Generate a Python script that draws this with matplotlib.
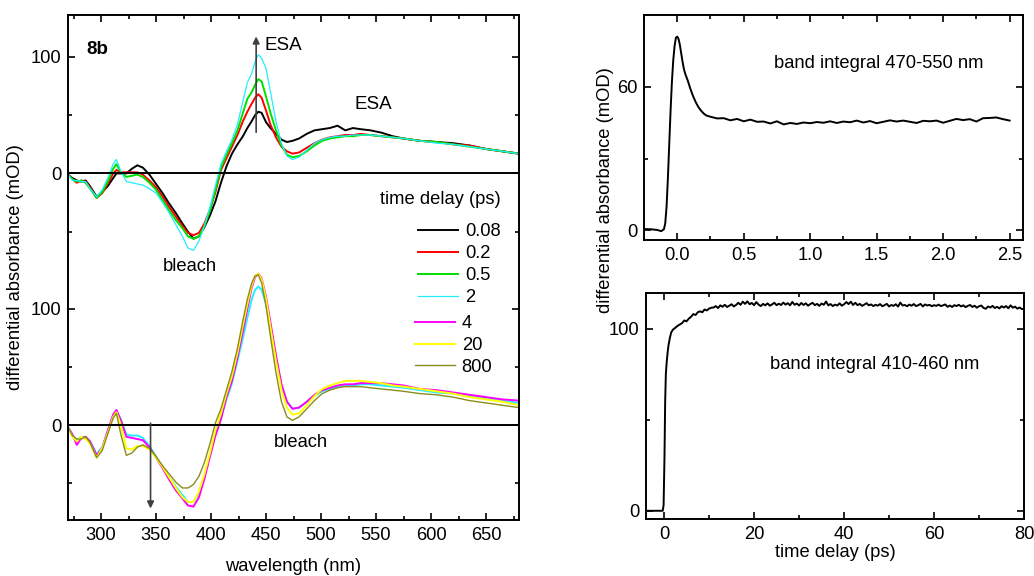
import numpy as np
import matplotlib
matplotlib.use("Agg")
import matplotlib.pyplot as plt
from matplotlib.ticker import MultipleLocator, FixedLocator

plt.rcParams['font.family'] = ['Liberation Sans', 'DejaVu Sans']
plt.rcParams['font.size'] = 13.2

# wavelength grid (nm) shared by all spectra
WL = [270, 274, 278, 282, 286, 290, 296, 301, 306, 311, 314, 318, 323, 328, 333, 338,
      344, 350, 356, 362, 368, 374, 379, 384, 389, 394, 399, 404, 409, 414, 419, 424,
      429, 433, 437, 440, 443, 446, 450, 454, 459, 464, 469, 474, 480, 487, 494, 501,
      508, 515, 522, 529, 536, 545, 555, 565, 575, 590, 605, 620, 635, 650, 665, 680]

# early delays (upper set), mOD
S_008 = [-1, -4, -6, -7, -6, -11, -20, -16, -11, -4, 0, 0, 0, 4, 7, 5,
         -1, -9, -17, -26, -34, -43, -50, -56, -54, -46, -36, -24, -8, 6, 17, 25,
         32, 39, 45, 50, 53, 52, 44, 39, 34, 29, 27, 28, 30, 34, 37, 38,
         39, 41, 37, 39, 38, 37, 35, 32, 30, 28, 27, 26, 24, 21, 19, 17]
S_02 = [-1, -5, -8, -6, -7, -12, -21, -17, -9, 0, 3, 1, 1, 1, 1, -1,
        -6, -12, -20, -29, -37, -45, -51, -53, -51, -43, -31, -16, 3, 13, 23, 33,
        45, 53, 60, 65, 68, 65, 54, 42, 31, 23, 19, 17, 18, 22, 26, 29,
        31, 32, 33, 33, 34, 33, 32, 31, 30, 28, 27, 25, 24, 21, 19, 17]
S_05 = [-1, -5, -7, -6, -8, -13, -21, -16, -7, 4, 8, 1, -3, -2, -1, -3,
        -8, -14, -23, -32, -40, -47, -54, -56, -54, -45, -32, -14, 5, 16, 26, 37,
        52, 64, 70, 76, 81, 79, 66, 52, 37, 24, 16, 14, 15, 19, 24, 28,
        30, 31, 32, 32, 33, 33, 32, 31, 30, 28, 27, 25, 23, 21, 19, 17]
S_2 = [-1, -6, -6, -7, -7, -13, -20, -14, -4, 8, 12, 2, -7, -8, -9, -10,
       -13, -17, -25, -34, -44, -54, -64, -66, -58, -45, -29, -10, 8, 19, 29, 42,
       62, 78, 86, 96, 102, 99, 90, 70, 45, 26, 15, 12, 14, 20, 26, 29,
       31, 32, 32, 33, 33, 33, 32, 31, 30, 28, 26, 25, 23, 21, 19, 17]

# later delays (lower set), mOD
L_2 = [-1, -9, -13, -10, -11, -14, -25, -19, -6, 8, 12, 5, -8, -9, -9, -11,
       -18, -27, -36, -45, -53, -60, -66, -66, -58, -44, -26, -8, 6, 22, 36, 55,
       75, 92, 108, 116, 119, 116, 104, 84, 58, 34, 20, 14, 15, 20, 25, 29,
       31, 33, 34, 34, 35, 35, 34, 33, 32, 30, 28, 27, 25, 23, 21, 19]
L_4 = [-2, -8, -17, -11, -10, -14, -26, -20, -5, 9, 13, 4, -10, -11, -12, -13,
       -19, -28, -37, -47, -56, -63, -69, -70, -62, -46, -27, -9, 5, 24, 38, 58,
       81, 100, 118, 127, 130, 126, 110, 88, 60, 35, 20, 14, 15, 20, 26, 30,
       32, 34, 35, 35, 36, 36, 36, 35, 34, 31, 30, 28, 26, 24, 22, 21]
L_20 = [-2, -10, -14, -10, -12, -16, -28, -20, -7, 7, 11, 0, -20, -21, -18, -18,
        -21, -28, -36, -45, -54, -62, -66, -66, -57, -42, -24, -4, 10, 27, 42, 62,
        86, 104, 120, 128, 130, 125, 108, 84, 55, 30, 15, 9, 10, 17, 25, 31,
        34, 36, 38, 38, 38, 37, 36, 34, 33, 31, 29, 27, 24, 22, 20, 17]
L_800 = [-2, -9, -12, -12, -10, -15, -28, -22, -8, 6, 10, -8, -26, -24, -19, -17,
         -20, -27, -35, -42, -49, -54, -54, -51, -44, -32, -16, 2, 14, 30, 46, 66,
         90, 108, 122, 128, 129, 122, 102, 76, 45, 20, 7, 4, 7, 14, 21, 27,
         30, 32, 33, 33, 33, 32, 31, 30, 29, 27, 26, 24, 21, 19, 17, 15]

UPPER_SHIFT = 216  # vertical offset of the early-delay stack

# band integral 470-550 nm, short delays (ps, mOD)
T_SHORT_RISE = [-0.25, -0.20, -0.15, -0.12, -0.10, -0.09, -0.08, -0.07, -0.06, -0.05,
                -0.04, -0.03, -0.02, -0.01, 0.0, 0.01, 0.02, 0.03, 0.04, 0.05,
                0.06, 0.07, 0.08, 0.10, 0.12, 0.14, 0.16, 0.18, 0.20, 0.22]
A_SHORT_RISE = [0.6, 0.5, 0.2, -0.3, 0.5, 3, 10, 22, 36, 50,
                62, 71, 77, 80.5, 81, 80, 77.5, 74, 70.5, 67.5,
                65.5, 64, 62.5, 59, 56, 53.5, 51.5, 50, 48.8, 48.0]
A_SHORT_PLATEAU = [47.5, 46.8, 46.9, 46.0, 46.6, 45.6, 46.3, 45.4, 45.5, 44.7,
                   45.6, 44.3, 44.9, 44.5, 45.1, 44.8, 45.3, 45.0, 45.6, 44.9,
                   45.5, 45.2, 45.9, 45.1, 45.7, 44.8, 45.4, 46.0, 45.5, 45.9,
                   45.4, 44.9, 45.8, 45.6, 45.9, 45.0, 45.8, 46.6, 46.1, 46.5,
                   45.5, 46.9, 47.0, 47.2, 46.5, 45.9]
T_SHORT = T_SHORT_RISE + list(np.arange(0.25, 2.501, 0.05))
A_SHORT = A_SHORT_RISE + A_SHORT_PLATEAU

# band integral 410-460 nm, long delays (ps, mOD)
T_LONG_RISE = [-4, -0.3, -0.1, 0.1, 0.25, 0.4, 0.6, 0.8, 1.0, 1.3, 1.6, 2.0, 2.5, 3.0,
               3.5, 4.0, 4.5, 5.0, 5.5, 6.0, 6.5, 7.0, 7.5, 8.0, 8.5, 9.0, 9.5, 10.0, 10.5]
A_LONG_RISE = [0, 0, 3, 30, 60, 75, 82, 87, 91, 95, 98, 99.5, 100.5, 101.5,
               102.3, 103, 104.5, 104, 105.5, 106.5, 108, 107.5, 109, 109.5, 109, 110.5, 110, 111, 111.5]
A_LONG_PLATEAU = [111.6, 112.4, 111.3, 112.8, 112.0, 113.1, 111.9, 112.6, 113.4, 112.2,
                  113.0, 114.2, 113.1, 114.8, 113.6, 115.0, 113.4, 114.1, 112.9, 114.6,
                  113.2, 112.4, 113.6, 112.8, 113.9, 112.6, 113.3, 114.2, 112.9, 113.7,
                  113.0, 114.3, 113.2, 114.0, 112.8, 114.7, 113.1, 113.8, 112.7, 114.1,
                  113.0, 113.9, 112.6, 113.5, 114.2, 112.9, 113.6, 112.5, 113.8, 113.1,
                  114.9, 112.8, 113.5, 112.4, 113.2, 112.7, 113.9, 112.6, 113.4, 114.6,
                  113.5, 114.8, 113.0, 114.2, 112.9, 113.6, 112.5, 113.2, 114.0, 112.8,
                  113.3, 112.4, 113.1, 112.6, 113.5, 112.3, 112.9, 113.6, 112.2, 113.0,
                  112.5, 113.4, 112.1, 114.3, 112.7, 113.0, 112.3, 113.2, 112.6, 113.5,
                  112.4, 112.9, 113.6, 112.2, 113.3, 112.7, 113.1, 112.3, 112.9, 112.5,
                  113.2, 112.4, 112.8, 113.3, 112.0, 112.7, 111.9, 112.9, 112.4, 113.1,
                  112.2, 112.8, 111.8, 112.5, 113.0, 111.9, 112.6, 111.5, 112.3, 112.7,
                  111.4, 110.9, 112.2, 111.6, 112.5, 111.3, 112.0, 111.1, 112.3, 111.6,
                  112.4, 111.2, 112.8, 111.5, 112.1, 111.0, 111.6, 110.8, 110.7]
T_LONG = T_LONG_RISE + list(np.arange(11, 80.01, 0.5))
A_LONG = A_LONG_RISE + A_LONG_PLATEAU

fig = plt.figure(figsize=(10.34, 5.76), dpi=100)

def style_axes(ax):
    ax.tick_params(which='both', direction='in', top=True, right=True, width=1.2, labelsize=13.2, pad=5)
    ax.tick_params(which='major', length=5)
    ax.tick_params(which='minor', length=3)
    for s in ax.spines.values():
        s.set_linewidth(1.4)

# ---- left panel: transient spectra ----
ax = fig.add_axes([0.0658, 0.0972, 0.4362, 0.8767])
wl = np.array(WL)
h1, = ax.plot(wl, np.array(S_008) + UPPER_SHIFT, color='black', lw=1.4, label='0.08')
h2, = ax.plot(wl, np.array(S_02) + UPPER_SHIFT, color='#ff0000', lw=1.4, label='0.2')
h3, = ax.plot(wl, np.array(S_05) + UPPER_SHIFT, color='#00e000', lw=1.4, label='0.5')
h4, = ax.plot(wl, np.array(S_2) + UPPER_SHIFT, color='#22eeff', lw=0.9, label='2')
ax.plot(wl, L_2, color='#22eeff', lw=1.4)
h5, = ax.plot(wl, L_4, color='#ff00ff', lw=1.4, label='4')
h6, = ax.plot(wl, L_20, color='#ffff00', lw=1.4, label='20')
h7, = ax.plot(wl, L_800, color='#8c8c1e', lw=1.0, label='800')
ax.axhline(0, color='black', lw=1.4)
ax.axhline(UPPER_SHIFT, color='black', lw=1.4)

ax.set_xlim(270, 680)
ax.set_ylim(-81.5, 352)
ax.xaxis.set_major_locator(MultipleLocator(50))
ax.xaxis.set_minor_locator(MultipleLocator(25))
ax.yaxis.set_major_locator(FixedLocator([0, 100, UPPER_SHIFT, UPPER_SHIFT + 100]))
ax.set_yticklabels(['0', '100', '0', '100'])
ax.yaxis.set_minor_locator(FixedLocator([-50, 50, UPPER_SHIFT - 50, UPPER_SHIFT + 50]))
style_axes(ax)
ax.set_xlabel('wavelength (nm)', labelpad=10)
ax.set_ylabel('differential absorbance (mOD)', labelpad=5)

ax.annotate('', xy=(441, 336), xytext=(441, 249),
            arrowprops=dict(arrowstyle='-|>', color='#404040', lw=1.2, mutation_scale=10))
ax.annotate('', xy=(345, -74), xytext=(345, 4),
            arrowprops=dict(arrowstyle='-|>', color='#404040', lw=1.2, mutation_scale=10))
ax.text(449, 326, 'ESA', fontsize=13.5, va='center')
ax.text(530, 275, 'ESA', fontsize=13.5, va='center')
ax.text(287, 322, '8b', fontsize=13.5, fontweight='bold', va='center')
ax.text(381, 136, 'bleach', ha='center', va='center')
ax.text(482, -15, 'bleach', ha='center', va='center')
ax.text(663, 194, 'time delay (ps)', ha='right', va='center')

leg1 = ax.legend(handles=[h1, h2, h3, h4], loc='upper left', bbox_to_anchor=(0.776, 0.588),
                 frameon=False, borderpad=0, borderaxespad=0, handlelength=2.2,
                 handletextpad=0.35, labelspacing=0.27)
ax.add_artist(leg1)
ax.legend(handles=[h5, h6, h7], loc='upper left', bbox_to_anchor=(0.769, 0.406),
          frameon=False, borderpad=0, borderaxespad=0, handlelength=2.2,
          handletextpad=0.35, labelspacing=0.27)

# ---- right top: 470-550 nm band integral ----
ax2 = fig.add_axes([0.6228, 0.5833, 0.3665, 0.3906])
ax2.plot(T_SHORT, A_SHORT, color='black', lw=1.4)
ax2.set_xlim(-0.25, 2.6)
ax2.set_ylim(-4, 90)
ax2.xaxis.set_major_locator(MultipleLocator(0.5))
ax2.xaxis.set_minor_locator(MultipleLocator(0.25))
ax2.xaxis.set_major_formatter(plt.FormatStrFormatter('%.1f'))
ax2.yaxis.set_major_locator(MultipleLocator(60))
ax2.yaxis.set_minor_locator(MultipleLocator(30))
style_axes(ax2)
ax2.text(0.62, 0.785, 'band integral 470-550 nm', transform=ax2.transAxes, ha='center', va='center')

# ---- right bottom: 410-460 nm band integral ----
ax3 = fig.add_axes([0.6248, 0.099, 0.3656, 0.3924])
ax3.plot(T_LONG, A_LONG, color='black', lw=1.4)
ax3.set_xlim(-4, 80)
ax3.set_ylim(-4.5, 119.6)
ax3.xaxis.set_major_locator(MultipleLocator(20))
ax3.xaxis.set_minor_locator(MultipleLocator(10))
ax3.yaxis.set_major_locator(MultipleLocator(100))
ax3.yaxis.set_minor_locator(MultipleLocator(50))
style_axes(ax3)
ax3.set_xlabel('time delay (ps)', labelpad=1)
ax3.text(0.605, 0.685, 'band integral 410-460 nm', transform=ax3.transAxes, ha='center', va='center')

fig.text(0.586, 0.670, 'differential absorbance (mOD)', rotation=90, ha='center', va='center')

fig.savefig('out.png', dpi=100)
